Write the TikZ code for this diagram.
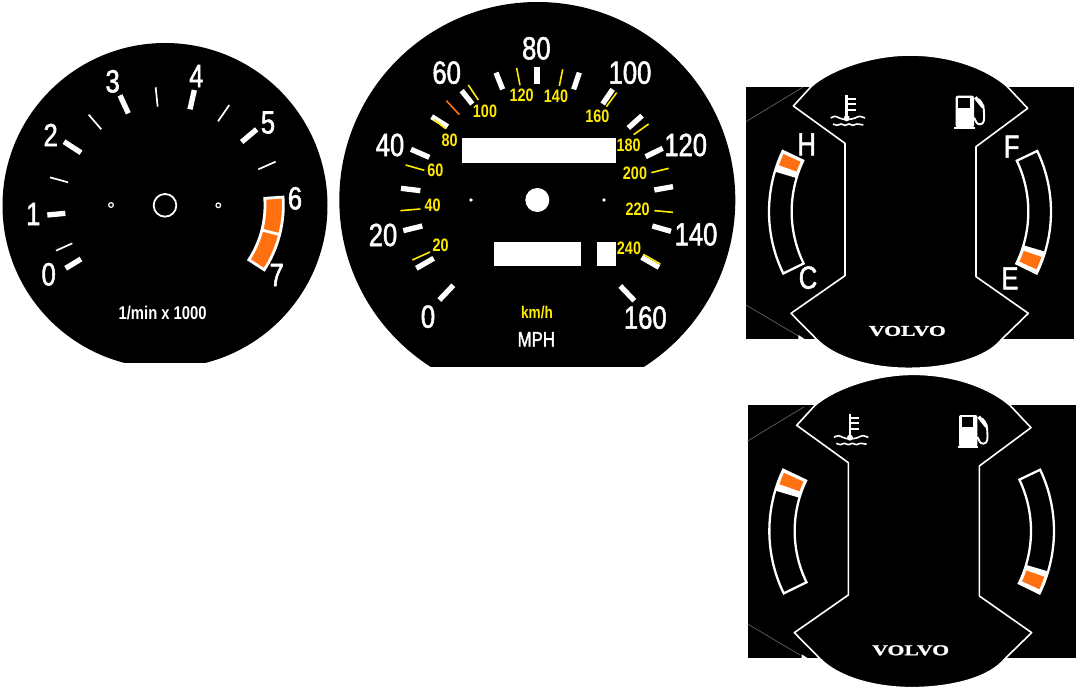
\documentclass[tikz,border=0pt]{standalone}
\usepackage{fontspec}
\setmainfont{Liberation Sans}
\newfontfamily\dinfont[FakeStretch=0.8,FakeBold=1.6]{Liberation Sans}
\newfontfamily\dinbold[FakeStretch=0.8]{Liberation Sans Bold}
\newfontfamily\volvofont[FakeStretch=1.45,FakeBold=1.4]{Liberation Serif Bold}
\definecolor{dashorange}{HTML}{FF7010}
\definecolor{dashyellow}{HTML}{FFEB00}
\tikzset{
  x=1pt,y=-1pt,
  major/.style={white,line width=5.3pt},
  minor/.style={white,line width=1.7pt},
  ylw/.style={dashyellow,line width=1.6pt},
  bigtxt/.style={white,inner sep=0,font=\dinfont\fontsize{32}{32}\selectfont},
  ymark/.style={dashyellow,inner sep=0,font=\dinbold\fontsize{18}{18}\selectfont},
  outline/.style={draw=white,line width=1.6pt},
  band/.style={draw=white,line width=2.3pt},
  redband/.style={draw=white,line width=2.8pt},
  edgeline/.style={draw=black!62,line width=0.7pt},
}
\newcommand\sectorpath[6]{plot[domain=#5:#6,samples=30] ({#1+#3*cos(\x)},{#2+#3*sin(\x)}) -- plot[domain=#6:#5,samples=30] ({#1+#4*cos(\x)},{#2+#4*sin(\x)}) -- cycle}
\newcommand\gaugecore{%
  \fill[white] (175,855) -- (175,869) -- (197,869) -- cycle;
  \draw[outline,fill=black,line join=round] (160,168) -- (215,108) .. controls (270,60) and (390,15) .. (510,15) .. controls (640,15) and (745,60) .. (800,108) -- (863,175)
    -- (708,290) -- (708,680) -- (865,790) -- (785,868)
    .. controls (740,925) and (625,955) .. (505,955) .. controls (385,955) and (280,920) .. (230,868)
    -- (153,790) -- (315,677) -- (315,280) -- cycle;
  % coolant symbol
  \draw[white,line width=2.6pt] (320,135) -- (320,205);
  \draw[white,line width=1.9pt] (320,146) -- (348,146) (320,162) -- (348,162) (320,179) -- (348,179);
  \fill[white] (320,205) circle[radius=9];
  \draw[white,line width=1.6pt] plot[smooth] coordinates {(272,204)(285,199)(298,204)(310,208)(330,208)(345,204)(358,199)(375,204)};
  \draw[white,line width=1.6pt] plot[smooth] coordinates {(279,222)(291,226)(303,222)(315,226)(327,222)(339,226)(351,222)(370,225)};
  % fuel pump
  \fill[white,rounded corners=2pt] (647,232) -- (647,137) -- (702,137) -- (702,232) -- cycle;
  \fill[black] (655,144) rectangle (690,174);
  \fill[white] (643,230) rectangle (705,237);
  \draw[white,line width=1.9pt] (702,203) .. controls (708,212) and (708,223) .. (720,223) .. controls (734,223) and (733,205) .. (732,190) .. controls (732,175) and (730,160) .. (716,147);
  \draw[white,line width=3.4pt] (706,142) -- (730,172);
  \node[inner sep=0,white,font=\volvofont\fontsize{15}{15}\selectfont] (volvo) at (502,843) {VOLVO};
}
\begin{document}
\begin{tikzpicture}
\useasboundingbox (0,0) rectangle (1077,690);
%%%%%% tachometer
\begin{scope}
  \clip (0,0) rectangle (1077,362);
  \fill[black] (165,205.5) circle[radius=162.5];
\end{scope}
\begin{scope}[shift={(0,20)},scale=1/3]
  \foreach \a/\b/\c/\d in {197/745/243/717,142/585/196/580,192/365/243/398,360/226/385/280,583/210/570/268,770/328/725/366}
    \draw[major] (\a,\b) -- (\c,\d);
  \foreach \a/\b/\c/\d in {168/692/217/670,150/472/204/487,266/284/304/328,467/202/473/260,688/255/654/304,827/425/775/448}
    \draw[minor] (\a,\b) -- (\c,\d);
  \draw[white,line width=1.8pt] (495,556) circle[radius=34];
  \draw[white,line width=1.2pt] (333,555) circle[radius=7] (655,556) circle[radius=7];
  \draw[redband,fill=dashorange] \sectorpath{495}{556}{300}{355}{-4}{33};
  \draw[redband] ({495+300*cos(14.3)},{556+300*sin(14.3)}) -- ({495+355*cos(14.3)},{556+355*sin(14.3)});
  \foreach \t/\p/\q in {0/146/763,1/100/582,2/152/345,3/338/184,4/589/168,5/804/308,6/885/535,7/830/765}
    \node[bigtxt] (tach\t) at (\p,\q) {\t};
  \node[white,inner sep=0,font=\dinbold\fontsize{18.5}{18.5}\selectfont] (tachunit) at (488,880) {1/min x 1000};
\end{scope}
%%%%%% speedometer
\begin{scope}
  \clip (0,0) rectangle (1077,366);
  \fill[black] (537.3,200) circle[radius=198];
\end{scope}
\begin{scope}[shift={(335,0)},scale=1/3]
  \foreach \a/\b/\c/\d in {313/900/355/856,205/692/262/678,244/805/296/775,198/565/256/572,228/448/283/472,290/350/338/380,380/272/412/312,483/218/503/268,606/200/606/252,733/218/716/268,833/268/803/312,921/347/880/384,983/445/932/470,1014/560/958/570,952/678/1008/694,972/802/920/772,898/902/856/858}
    \draw[major] (\a,\b) -- (\c,\d);
  \foreach \a/\b/\c/\d in {232/780/285/756,196/632/256/627,212/495/268/511,297/358/332/386,400/255/430/300,545/204/555/256,683/208/673/258,845/278/814/320,941/372/896/404,1001/505/949/518,958/632/1014/637,925/763/976/792}
    \draw[ylw] (\a,\b) -- (\c,\d);
  \draw[dashorange,line width=1.6pt] (334,302) -- (373,344);
  \fill[white] (380,415) rectangle (842,489);
  \fill[white] (477,727) rectangle (737,797);
  \fill[white] (787,727) rectangle (842,797);
  \fill[white] (607,600) circle[radius=36];
  \fill[white] (408,600) circle[radius=5.5] (807,600) circle[radius=5.5];
  \foreach \t/\p/\q in {80/604/145,60/335/218,100/885/218,40/165/435,120/1052/435,20/144/705,140/1083/703,0/279/950,160/931/953}
    \node[bigtxt] (mph\t) at (\p,\q) {\t};
  \foreach \t/\p/\q in {20/317/736,40/293/617,60/301/512,80/344/420,100/450/333,120/560/286,140/663/288,160/787/350,180/881/436,200/900/521,220/908/628,240/882/744}
    \node[ymark] (kmh\t) at (\p,\q) {\t};
  \node[dashyellow,inner sep=0,font=\dinbold\fontsize{17}{17}\selectfont] (kmh) at (606,938) {km/h};
  \node[white,inner sep=0,font=\dinfont\fontsize{21}{21}\selectfont] (mph) at (604,1018) {MPH};
\end{scope}
%%%%%% upper gauge
\begin{scope}[shift={(740,50)},scale=1/3]
  \fill[black] (18,110) rectangle (1003,868);
  \draw[edgeline] (18,215) -- (188,112) (18,765) -- (175,858);
  \gaugecore
  \draw[band] \sectorpath{510}{485}{355}{423}{154}{205.5};
  \fill[white] \sectorpath{510}{485}{355}{423}{196.5}{205.5};
  \fill[dashorange] \sectorpath{510}{485}{361}{417}{199.5}{204.5};
  \draw[band] \sectorpath{510}{485}{355}{423}{-25.5}{26};
  \fill[white] \sectorpath{510}{485}{355}{423}{16.5}{26};
  \fill[dashorange] \sectorpath{510}{485}{361}{417}{19}{24.5};
  \foreach \t/\p/\q in {H/200/283,C/204/683,F/815/290,E/810/685}
    \node[bigtxt] (g\t) at (\p,\q) {\t};
\end{scope}
%%%%%% lower gauge
\begin{scope}[shift={(740,370)},scale=1/3]
  \fill[black] (23,105) rectangle (1007,865);
  \draw[edgeline] (23,213) -- (193,110) (23,762) -- (180,855);
  \begin{scope}[shift={(10,-2)}]
    \gaugecore
  \end{scope}
  \draw[band] \sectorpath{515}{483}{351}{427}{154}{205.5};
  \fill[white] \sectorpath{515}{483}{351}{427}{196.5}{205.5};
  \fill[dashorange] \sectorpath{515}{483}{357}{421}{199.5}{204.5};
  \draw[band] \sectorpath{515}{483}{358}{427}{-25.5}{26};
  \fill[white] \sectorpath{515}{483}{358}{427}{16.5}{26};
  \fill[dashorange] \sectorpath{515}{483}{364}{421}{19}{24.5};
\end{scope}
\end{tikzpicture}
\end{document}
